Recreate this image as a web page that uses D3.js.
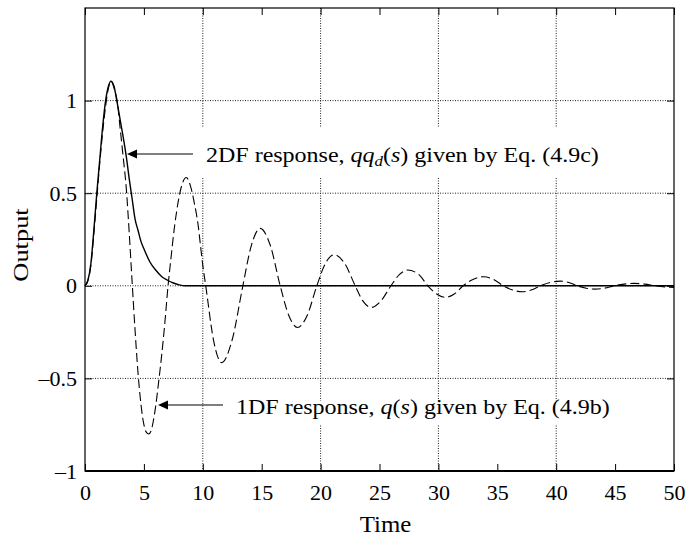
<!DOCTYPE html>
<html>
<head>
<meta charset="utf-8">
<script src="https://cdn.jsdelivr.net/npm/d3@7"></script>
<style>
  body { margin: 0; background: #fff; }
  svg text { font-family: "Liberation Serif", "Times New Roman", serif; fill: #000; }
</style>
</head>
<body>
<div id="chart"></div>
<script>
// time axis ticks and grid
var xTicks = [0, 5, 10, 15, 20, 25, 30, 35, 40, 45, 50];
var xGrid = [10, 20, 30, 40];
var yTicks = [-1, -0.5, 0, 0.5, 1];
var yTickLabels = ["\u20131", "\u20130.5", "0", "0.5", "1"];
var yGrid = [-0.5, 0, 0.5, 1];

// 2DF response (solid)
var twoDfTime = [0, 0.25, 0.5, 0.75, 1, 1.25, 1.5, 1.75, 2, 2.2, 2.45, 2.7, 3, 3.25, 3.5, 3.75, 4, 4.25, 4.5, 4.75, 5, 5.5, 6, 6.5, 7, 7.5, 8, 8.5, 10, 20, 30, 40, 50];
var twoDfOutput = [0, 0.03, 0.12, 0.3, 0.5, 0.68, 0.86, 1.0, 1.08, 1.105, 1.08, 1.0, 0.89, 0.8, 0.7, 0.58, 0.47, 0.36, 0.3, 0.24, 0.2, 0.13, 0.085, 0.05, 0.03, 0.015, 0.005, 0, 0, 0, 0, 0, 0];

// 1DF response (dashed)
var oneDfTime = [0, 0.25, 0.5, 0.75, 1, 1.25, 1.5, 1.75, 2, 2.2, 2.5, 2.75, 3, 3.25, 3.5, 3.75, 4, 4.25, 4.5, 4.75, 5, 5.2, 5.4, 5.6, 5.8, 6, 6.25, 6.5, 6.75, 7.05, 7.3, 7.6, 7.9, 8.25, 8.6, 8.95, 9.3, 9.6, 9.8, 10, 10.25,
  10.93, 11.6, 12.5, 13.4, 14.13, 14.87, 15.72, 16.57, 17.3, 18.04, 18.86, 19.68, 20.4, 21.15, 22.05, 22.94, 23.6, 24.27, 25.1, 25.97,
  26.68, 27.39, 28.35, 29.1, 29.85, 30.6, 31.35, 32.1, 32.97, 33.84, 34.67, 35.5, 36.3, 37.1, 37.88, 38.66, 39.5, 40.36, 41.08, 41.8,
  42.55, 43.3, 44.1, 44.9, 45.75, 46.6, 47.5, 48.4, 49.2, 50];
var oneDfOutput = [0, 0.03, 0.11, 0.28, 0.47, 0.66, 0.83, 0.97, 1.07, 1.105, 1.06, 0.99, 0.84, 0.69, 0.53, 0.29, 0.02, -0.24, -0.47, -0.64, -0.75, -0.79, -0.8, -0.785, -0.73, -0.65, -0.52, -0.38, -0.22, 0, 0.15, 0.32, 0.45, 0.55, 0.585, 0.54, 0.44, 0.33, 0.22, 0.11, 0,
  -0.3, -0.415, -0.29, 0, 0.22, 0.31, 0.22, 0, -0.16, -0.225, -0.16, 0, 0.12, 0.168, 0.12, 0, -0.083, -0.117, -0.083, 0,
  0.06, 0.085, 0.06, 0, -0.044, -0.062, -0.044, 0, 0.035, 0.049, 0.035, 0, -0.023, -0.032, -0.023, 0, 0.018, 0.025, 0.018, 0,
  -0.013, -0.018, -0.013, 0, 0.009, 0.013, 0.009, 0, -0.006, -0.009];

var W = 689, H = 540,
    m = { left: 85, top: 8, right: 15, bottom: 69 };

var svg = d3.select("#chart").append("svg").attr("width", W).attr("height", H);

var x = d3.scaleLinear().domain([0, 50]).range([m.left, W - m.right]),
    y = d3.scaleLinear().domain([-1, 1.5]).range([H - m.bottom, m.top]);

// dotted grid
var grid = svg.append("g");
grid.selectAll(".gx").data(xGrid).enter().append("line")
    .attr("x1", function (d) { return x(d); }).attr("x2", function (d) { return x(d); })
    .attr("y1", y(1.5)).attr("y2", y(-1));
grid.selectAll(".gy").data(yGrid).enter().append("line")
    .attr("x1", x(0)).attr("x2", x(50))
    .attr("y1", function (d) { return y(d); }).attr("y2", function (d) { return y(d); });
grid.selectAll("line").attr("stroke", "#222").attr("stroke-width", 1).attr("stroke-dasharray", "1,1.5");

// white boxes behind the annotation text
svg.append("rect").attr("x", 200).attr("y", 127).attr("width", 410).attr("height", 50).attr("fill", "#fff");
svg.append("rect").attr("x", 228).attr("y", 401).attr("width", 382).attr("height", 24).attr("fill", "#fff");

// curves
var line = d3.line().curve(d3.curveMonotoneX)
    .x(function (d) { return x(d[0]); })
    .y(function (d) { return y(d[1]); });

svg.append("path")
    .datum(d3.zip(oneDfTime, oneDfOutput))
    .attr("d", line).attr("fill", "none").attr("stroke", "#000")
    .attr("stroke-width", 1.1).attr("stroke-dasharray", "9,4");
svg.append("path")
    .datum(d3.zip(twoDfTime, twoDfOutput))
    .attr("d", line).attr("fill", "none").attr("stroke", "#000")
    .attr("stroke-width", 1.4);

// axes, ticks pointing inward
svg.append("g").attr("transform", "translate(0," + y(-1) + ")")
    .call(d3.axisBottom(x).tickValues(xTicks).tickSizeInner(-7).tickSizeOuter(0).tickPadding(13));
svg.append("g").attr("transform", "translate(0," + y(1.5) + ")")
    .call(d3.axisTop(x).tickValues(xTicks).tickSizeInner(-7).tickSizeOuter(0).tickFormat(""));
svg.append("g").attr("transform", "translate(" + x(0) + ",0)")
    .call(d3.axisLeft(y).tickValues(yTicks).tickSizeInner(-7).tickSizeOuter(0).tickPadding(8)
        .tickFormat(function (d, i) { return yTickLabels[i]; }));
svg.append("g").attr("transform", "translate(" + x(50) + ",0)")
    .call(d3.axisRight(y).tickValues(yTicks).tickSizeInner(-7).tickSizeOuter(0).tickFormat(""));
svg.selectAll(".domain").remove();
svg.selectAll(".tick line").attr("stroke", "#000");
svg.selectAll(".tick text").style("font-size", "22px").attr("fill", "#000");

// frame
svg.append("rect").attr("x", x(0)).attr("y", y(1.5))
    .attr("width", x(50) - x(0)).attr("height", y(-1) - y(1.5))
    .attr("fill", "none").attr("stroke", "#000").attr("stroke-width", 1.2);
svg.append("line").attr("x1", x(0)).attr("x2", x(50)).attr("y1", y(-1)).attr("y2", y(-1))
    .attr("stroke", "#000").attr("stroke-width", 2);

// axis titles
svg.append("text").attr("transform", "translate(" + ((x(0) + x(50)) / 2 + 6) + ",532) scale(1.08,1)")
    .attr("text-anchor", "middle").style("font-size", "23px").text("Time");
svg.append("text").attr("transform", "translate(28,245) rotate(-90) scale(1.2,1)")
    .attr("text-anchor", "middle").style("font-size", "22px").text("Output");

// annotations
function arrow(x0, x1, yy) {
    svg.append("line").attr("x1", x0).attr("x2", x1 + 8).attr("y1", yy).attr("y2", yy)
        .attr("stroke", "#000").attr("stroke-width", 1.2);
    svg.append("path").attr("d", "M" + x1 + "," + yy + "L" + (x1 + 10) + "," + (yy - 4.5) + "L" + (x1 + 10) + "," + (yy + 4.5) + "Z")
        .attr("fill", "#000");
}
arrow(193, 127, 154);
arrow(223, 158, 405);

var t2 = svg.append("text").attr("transform", "translate(206,162) scale(1.2,1)").style("font-size", "20px");
t2.append("tspan").text("2DF response, ");
t2.append("tspan").style("font-style", "italic").text("qq");
t2.append("tspan").style("font-style", "italic").style("font-size", "14px").attr("dy", 4).text("d");
t2.append("tspan").attr("dy", -4).text("(");
t2.append("tspan").style("font-style", "italic").text("s");
t2.append("tspan").text(") given by Eq. (4.9c)");

var t1 = svg.append("text").attr("transform", "translate(236,414) scale(1.2,1)").style("font-size", "20px");
t1.append("tspan").text("1DF response, ");
t1.append("tspan").style("font-style", "italic").text("q");
t1.append("tspan").text("(");
t1.append("tspan").style("font-style", "italic").text("s");
t1.append("tspan").text(") given by Eq. (4.9b)");
</script>
</body>
</html>
